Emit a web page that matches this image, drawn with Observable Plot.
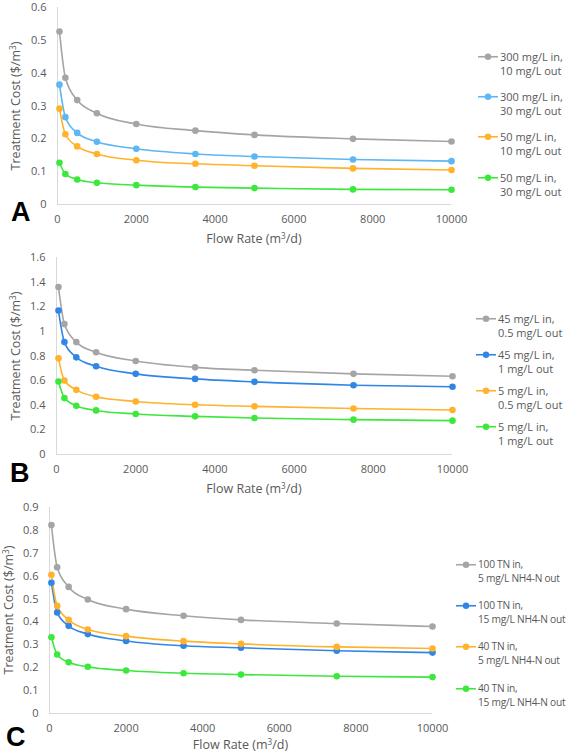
<!DOCTYPE html>
<html>
<head>
<meta charset="utf-8">
<script src="https://cdn.jsdelivr.net/npm/d3@7"></script>
<script src="https://cdn.jsdelivr.net/npm/@observablehq/plot@0.6"></script>
<style>
  html, body { margin: 0; padding: 0; background: #fff; }
  #root { position: relative; width: 566px; height: 756px; overflow: hidden; font-family: "Open Sans", sans-serif; color: #595959; }
  .panel { position: absolute; left: 0; }
  .xt, .yt { position: absolute; white-space: nowrap; font-size: 12.5px; color: #595959; }
  .xt { transform: translate(-50%, -50%); }
  .yt { transform: translate(-50%, -50%) rotate(-90deg); }
  sup { font-size: 0.65em; vertical-align: 0; position: relative; top: -0.55em; }
  .letter { position: absolute; font-family: "Liberation Sans", Arial, sans-serif; font-weight: bold; font-size: 27px; color: #000; line-height: 1; }
  .item { position: absolute; display: flex; align-items: flex-start; white-space: nowrap; font-size: 11px; line-height: 13.5px; color: #595959; }
  .item svg { flex: none; display: block; }
  .item .txt { margin-left: 2px; }
</style>
</head>
<body>
<div id="root"></div>
<script>
// ---- data ----
const flowRate = [50, 200, 500, 1000, 2000, 3500, 5000, 7500, 10000];
const xTicks = [0, 2000, 4000, 6000, 8000, 10000];

// Panel A
const labelsA = ["300 mg/L in,\n10 mg/L out", "300 mg/L in,\n30 mg/L out", "50 mg/L in,\n10 mg/L out", "50 mg/L in,\n30 mg/L out"];
const a300in10out = [0.527, 0.386, 0.318, 0.278, 0.245, 0.225, 0.212, 0.200, 0.192];
const a300in30out = [0.365, 0.266, 0.218, 0.191, 0.170, 0.154, 0.146, 0.137, 0.132];
const a50in10out  = [0.292, 0.214, 0.177, 0.154, 0.135, 0.124, 0.118, 0.110, 0.105];
const a50in30out  = [0.127, 0.093, 0.076, 0.066, 0.059, 0.053, 0.050, 0.046, 0.045];
const yTicksA = [0, 0.1, 0.2, 0.3, 0.4, 0.5, 0.6];

// Panel B
const labelsB = ["45 mg/L in,\n0.5 mg/L out", "45 mg/L in,\n1 mg/L out", "5 mg/L in,\n0.5 mg/L out", "5 mg/L in,\n1 mg/L out"];
const b45in05out = [1.360, 1.059, 0.913, 0.830, 0.760, 0.708, 0.684, 0.655, 0.636];
const b45in1out  = [1.169, 0.913, 0.789, 0.717, 0.655, 0.614, 0.590, 0.563, 0.550];
const b5in05out  = [0.781, 0.601, 0.525, 0.469, 0.431, 0.404, 0.391, 0.374, 0.361];
const b5in1out   = [0.593, 0.458, 0.396, 0.358, 0.329, 0.310, 0.296, 0.283, 0.275];
const yTicksB = [0, 0.2, 0.4, 0.6, 0.8, 1, 1.2, 1.4, 1.6];

// Panel C
const labelsC = ["100 TN in,\n5 mg/L NH4-N out", "100 TN in,\n15 mg/L NH4-N out", "40 TN in,\n5 mg/L NH4-N out", "40 TN in,\n15 mg/L NH4-N out"];
const c100in5out  = [0.823, 0.639, 0.553, 0.498, 0.456, 0.427, 0.409, 0.393, 0.380];
const c100in15out = [0.571, 0.441, 0.383, 0.347, 0.317, 0.296, 0.287, 0.274, 0.266];
const c40in5out   = [0.606, 0.470, 0.409, 0.367, 0.338, 0.316, 0.304, 0.291, 0.284];
const c40in15out  = [0.333, 0.258, 0.224, 0.204, 0.188, 0.176, 0.170, 0.163, 0.159];
const yTicksC = [0, 0.1, 0.2, 0.3, 0.4, 0.5, 0.6, 0.7, 0.8, 0.9];

const colorsA = ["#A5A5A5", "#5DB7F2", "#FFB22A", "#3DE83D"];
const colorsBC = ["#A5A5A5", "#2F86E6", "#FFB22A", "#3DE83D"];

// ---- drawing ----
const root = document.getElementById("root");

function panel(cfg) {
  const rows = [];
  cfg.series.forEach((vals, i) => vals.forEach((v, j) => rows.push({flow: flowRate[j], cost: v, s: cfg.labels[i]})));
  const fmt = d => String(+d.toFixed(2));
  const chart = Plot.plot({
    width: 566, height: cfg.height,
    marginTop: cfg.mt, marginBottom: cfg.mb, marginLeft: cfg.ml, marginRight: cfg.mr,
    style: {fontFamily: "Open Sans, sans-serif", fontSize: "11px", color: "#595959", background: "transparent", overflow: "visible"},
    x: {domain: [0, 10000]},
    y: {domain: [0, cfg.yTicks[cfg.yTicks.length - 1]]},
    color: {domain: cfg.labels, range: cfg.colors},
    marks: [
      Plot.ruleY([0], {stroke: "#D9D9D9", strokeWidth: 1}),
      Plot.ruleX([0], {stroke: "#D9D9D9", strokeWidth: 1}),
      Plot.axisX({ticks: xTicks, tickSize: 0, tickPadding: 11, label: null, tickFormat: d => String(d)}),
      Plot.axisY({ticks: cfg.yTicks, tickSize: 0, tickPadding: 11, label: null, tickFormat: fmt}),
      Plot.line(rows, {x: "flow", y: "cost", z: "s", stroke: "s", strokeWidth: 1.6, curve: "monotone-x"}),
      Plot.dot(rows, {x: "flow", y: "cost", fill: "s", r: 3.3})
    ]
  });
  const wrap = document.createElement("div");
  wrap.className = "panel";
  wrap.style.top = cfg.top + "px";
  wrap.appendChild(chart);
  root.appendChild(wrap);

  const xt = document.createElement("div");
  xt.className = "xt";
  xt.innerHTML = "Flow Rate (m<sup>3</sup>/d)";
  xt.style.left = (cfg.ml + (566 - cfg.mr)) / 2 + "px";
  xt.style.top = cfg.top + cfg.height - 12 + "px";
  root.appendChild(xt);

  const yt = document.createElement("div");
  yt.className = "yt";
  yt.innerHTML = "Treatment Cost ($/m<sup>3</sup>)";
  yt.style.left = cfg.ytx + "px";
  yt.style.top = cfg.top + (cfg.mt + cfg.height - cfg.mb) / 2 + "px";
  root.appendChild(yt);

  const L = document.createElement("div");
  L.className = "letter";
  L.textContent = cfg.letter;
  L.style.left = cfg.lx + "px";
  L.style.top = cfg.ly + "px";
  root.appendChild(L);

  cfg.labels.forEach((lab, i) => {
    const it = document.createElement("div");
    it.className = "item";
    it.style.left = cfg.legX + "px";
    it.style.top = (cfg.legY[i] - 6.75) + "px";
    if (cfg.legFont) it.style.fontSize = cfg.legFont;
    if (cfg.legSpacing) it.style.letterSpacing = cfg.legSpacing;
    it.innerHTML = `<svg width="20" height="13.5"><line x1="0" x2="20" y1="6.75" y2="6.75" stroke="${cfg.colors[i]}" stroke-width="1.6"/><circle cx="10" cy="6.75" r="3.2" fill="${cfg.colors[i]}"/></svg>` +
      `<div class="txt">${lab.replace("\n", "<br>")}</div>`;
    root.appendChild(it);
  });
}

panel({top: 0, height: 250, mt: 7, mb: 46, ml: 57, mr: 115,
  series: [a300in10out, a300in30out, a50in10out, a50in30out], labels: labelsA, colors: colorsA, yTicks: yTicksA,
  ytx: 15, letter: "A", lx: 11, ly: 199, legX: 478, legY: [57, 97, 137, 178]});
panel({top: 250, height: 250, mt: 7, mb: 46, ml: 56, mr: 114,
  series: [b45in05out, b45in1out, b5in05out, b5in1out], labels: labelsB, colors: colorsBC, yTicks: yTicksB,
  ytx: 15, letter: "B", lx: 10, ly: 460, legX: 476, legY: [319, 355, 391, 427]});
panel({top: 500, height: 256, mt: 7, mb: 43, ml: 49, mr: 134,
  series: [c100in5out, c100in15out, c40in5out, c40in15out], labels: labelsC, colors: colorsBC, yTicks: yTicksC,
  ytx: 8, letter: "C", lx: 6, ly: 724, legX: 456, legY: [565, 606, 647, 689], legFont: "10.2px", legSpacing: "-0.25px"});
</script>
</body>
</html>
